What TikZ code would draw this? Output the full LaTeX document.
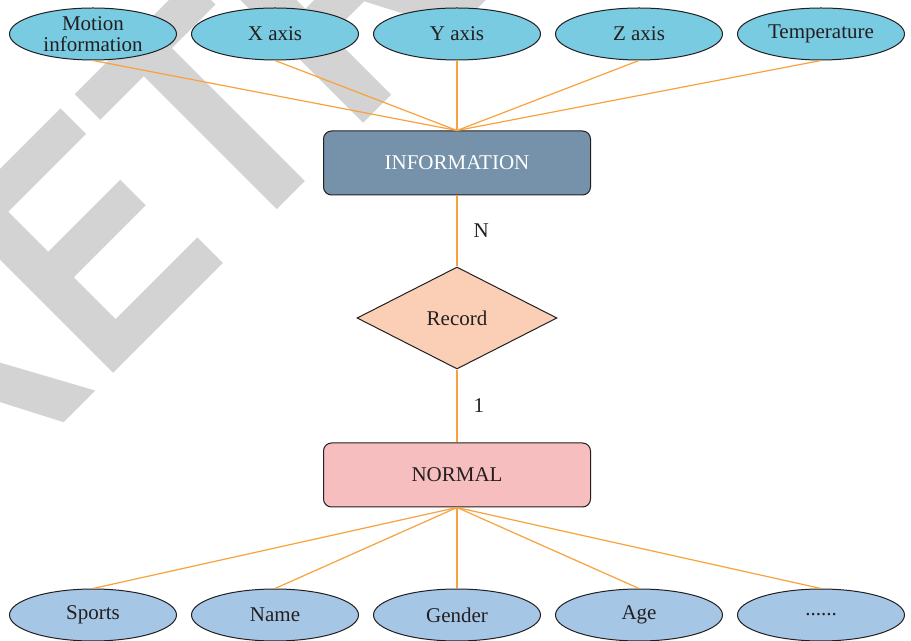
\documentclass[tikz,border=0pt]{standalone}
\usepackage{fontspec}
\setmainfont{Liberation Serif}
\setsansfont{Liberation Sans}
\usepackage{xcolor}
\usepackage{tikz}
\usetikzlibrary{positioning, shapes.geometric}

\definecolor{topattr}{HTML}{79CBE2}
\definecolor{botattr}{HTML}{A6C6E6}
\definecolor{infofill}{HTML}{7592AA}
\definecolor{recfill}{HTML}{FBCFB6}
\definecolor{normfill}{HTML}{F7BEC0}
\definecolor{linkcol}{HTML}{F9A13B}
\definecolor{outline}{HTML}{231F20}
\definecolor{stampgray}{HTML}{D3D3D3}

\begin{document}
\begin{tikzpicture}[
    x=0.5pt, y=-0.5pt,
    every node/.style={
        align=center,
        text=outline,
        font=\fontsize{10.5}{10.5}\selectfont
    },
    attr/.style={draw=outline, line width=0.5pt, ellipse, inner sep=0pt,
        minimum width=83.5pt, minimum height=26pt},
    entity/.style={draw=outline, line width=0.5pt, rounded corners=4pt,
        minimum width=133.5pt, minimum height=32pt},
    relation/.style={draw=outline, line width=0.5pt, diamond, fill=recfill,
        inner sep=0pt, minimum width=100pt, minimum height=51pt},
    link/.style={draw=linkcol, line width=0.6pt},
    card/.style={midway, right=8pt, inner sep=0pt},
    stamp/.style={anchor=base, rotate=45, inner sep=0pt, text=stampgray,
        font=\sffamily\bfseries\fontsize{163}{163}\selectfont}
]
\useasboundingbox (0,0) rectangle (911,641);

% watermark behind everything
\begin{scope}
\clip (0,0) rectangle (911,641);
\node[stamp] (mark) at (563,-76) {\scalebox{0.85}[1]{RETRACTED}};
\end{scope}

% entities and relation
\node[entity, fill=infofill, text=white] (info) at (457,163) {INFORMATION};
\node[relation] (record) [below=35.5pt of info] {Record};
\node[entity, fill=normfill] (normal) [below=36.5pt of record] {NORMAL};

% attributes of INFORMATION
\node[attr, fill=topattr] (motion) at (93,34) {Motion\\information};
\node[attr, fill=topattr] (xaxis) at (275,34) {X axis};
\node[attr, fill=topattr] (yaxis) at (457,34) {Y axis};
\node[attr, fill=topattr] (zaxis) at (639,34) {Z axis};
\node[attr, fill=topattr] (temp) at (821,34) {Temperature};

% attributes of NORMAL
\node[attr, fill=botattr] (sports) at (93,615) {Sports};
\node[attr, fill=botattr] (name) at (275,615) {Name};
\node[attr, fill=botattr] (gender) at (457,615) {Gender};
\node[attr, fill=botattr] (age) at (639,615) {Age};
\node[attr, fill=botattr] (more) at (821,615) {......};

% connectors
\draw[link] (motion.south) -- (info.north);
\draw[link] (xaxis.south) -- (info.north);
\draw[link] (yaxis.south) -- (info.north);
\draw[link] (zaxis.south) -- (info.north);
\draw[link] (temp.south) -- (info.north);

\draw[link] (info) -- node[card] (ncard) {N} (record);
\draw[link] (record) -- node[card] (onecard) {1} (normal);

\draw[link] (normal.south) -- (sports.north);
\draw[link] (normal.south) -- (name.north);
\draw[link] (normal.south) -- (gender.north);
\draw[link] (normal.south) -- (age.north);
\draw[link] (normal.south) -- (more.north);

\end{tikzpicture}
\end{document}
